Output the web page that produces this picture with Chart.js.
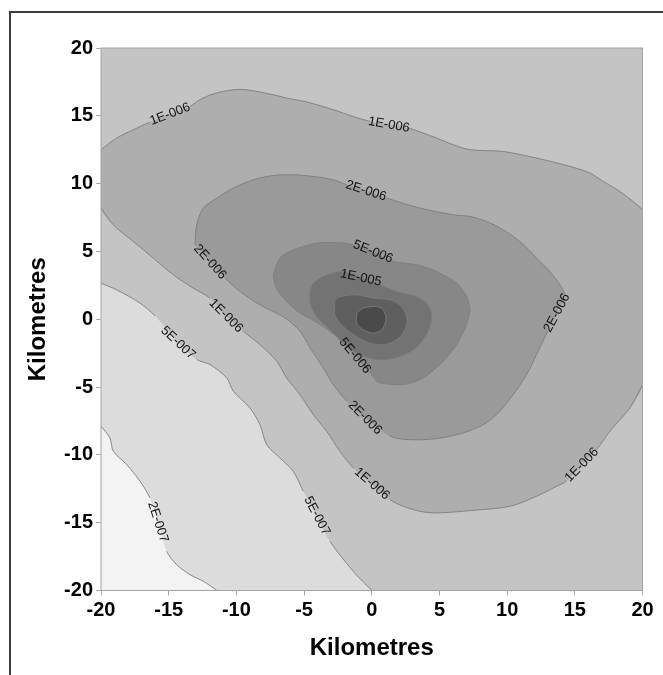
<!DOCTYPE html>
<html>
<head>
<meta charset="utf-8">
<script src="https://cdn.jsdelivr.net/npm/chart.js@4.4.0/dist/chart.umd.min.js"></script>
<style>
  html, body { margin: 0; padding: 0; background: #fff; overflow: hidden; }
  #frame { position: absolute; left: 9px; top: 11px; width: 1000px; height: 1000px;
           border-left: 2px solid #3c3c3c; border-top: 2px solid #3c3c3c; }
  #chartContainer { position: absolute; left: 0; top: 0; }
</style>
</head>
<body>
<div id="frame"></div>
<canvas id="chartContainer" width="663" height="675"></canvas>
<script>
// Contour lines, [x km, y km]
const contour2e7 = [[-20,-7.89],[-19.34,-8.75],[-19.09,-9.73],[-18.10,-10.72],[-17.12,-11.94],[-16.38,-13.18],
  [-15.79,-14.95],[-15.15,-17.11],[-14.41,-18.10],[-13.43,-18.83],[-12.44,-19.32],[-11.43,-20]];

const contour5e7 = [[-20,2.66],[-18.84,2.17],[-17.12,1.19],[-16.01,0.25],[-14.31,-1.74],[-12.93,-2.97],
  [-11.95,-3.34],[-10.72,-4.32],[-10.23,-5.30],[-9.00,-6.54],[-8.26,-7.77],[-7.76,-9.24],[-6.78,-10.23],
  [-5.80,-11.21],[-5.06,-12.68],[-4.05,-14.50],[-3.09,-16.37],[-1.37,-18.58],[0.01,-20]];

const contour1e6Upper = [[-20,12.5],[-18.84,13.36],[-17.61,13.97],[-16.38,14.54],[-14.9,15.12],[-13.43,15.69],
  [-12.69,16.19],[-11.71,16.61],[-10.23,16.92],[-9.24,16.92],[-7.27,16.55],[-6.29,16.31],[-4.81,16.02],
  [-2.84,15.45],[-1.37,14.95],[-0.13,14.59],[1.27,14.34],[2.70,14.10],[4.79,13.36],[6.02,12.87],[7.25,12.5],
  [9.71,12.37],[12.18,11.88],[14.64,11.27],[16.12,10.78],[17.10,10.16],[18.33,9.42],[19.31,8.68],[20,8.07]];

const contour1e6Lower = [[20,-4.82],[19.07,-6.54],[17.59,-8.26],[16.61,-9.61],[15.52,-10.74],[14.39,-11.94],
  [13.66,-12.31],[12.18,-13.05],[10.21,-13.79],[7.25,-14.11],[4.79,-14.28],[3.56,-14.16],[2.33,-13.79],
  [1.34,-13.30],[0.01,-12.14],[-1.37,-10.96],[-2.35,-9.73],[-3.33,-8.26],[-4.32,-7.03],[-5.30,-5.56],
  [-6.29,-4.32],[-7.02,-3.09],[-8.26,-1.87],[-9.49,-0.88],[-10.77,0.25],[-11.95,1.56],[-13.18,2.29],
  [-14.66,3.28],[-16.14,4.51],[-17.61,5.73],[-19.09,6.96],[-20,8.20]];

const contour2e6 = [[-13.06,5.49],[-12.93,6.96],[-12.44,8.20],[-11.45,8.93],[-10.23,9.67],[-8.75,10.28],
  [-7.27,10.60],[-5.80,10.65],[-4.32,10.53],[-2.84,10.28],[-1.85,9.92],[-0.43,9.47],[1.10,8.93],[3.56,8.20],
  [6.02,7.70],[7.25,7.58],[8.49,7.21],[9.71,6.60],[10.95,5.73],[12.18,4.51],[13.16,3.52],[13.90,2.54],
  [14.27,1.73],[13.68,0.47],[13.01,-0.86],[12.18,-2.60],[11.44,-4.08],[10.45,-5.56],[9.22,-7.03],[8.24,-7.77],
  [6.76,-8.38],[4.79,-8.80],[2.82,-8.88],[1.34,-8.62],[-0.50,-7.27],[-1.85,-6.04],[-2.84,-4.82],[-3.58,-3.59],
  [-4.56,-2.11],[-5.30,-0.88],[-6.41,0.10],[-8.26,1.06],[-9.73,2.04],[-10.84,3.03],[-11.95,4.23]];

const contour5e6 = [[-7.27,3.28],[-6.78,4.51],[-5.80,5.12],[-4.07,5.61],[-2.59,5.66],[-1.39,5.49],[0.09,4.97],
  [1.59,4.26],[3.32,4.01],[4.79,3.52],[6.27,2.66],[7.01,1.67],[7.25,0.69],[7.13,0.10],[7.01,-0.39],[6.27,-1.87],
  [5.28,-3.09],[3.80,-4.32],[2.33,-4.82],[0.61,-4.69],[0.24,-4.45],[-1.24,-2.70],[-2.87,-1.08],[-4.12,-0.19],
  [-5.30,0.47],[-6.34,1.36],[-7.08,2.39]];

const contour1e5 = [[-4.56,2.17],[-4.32,2.66],[-3.58,3.15],[-2.22,3.52],[-0.80,3.05],[0.61,2.54],[1.84,2.04],
  [3.32,1.67],[4.05,1.19],[4.42,0.45],[4.30,-0.54],[3.80,-1.52],[3.07,-2.26],[2.08,-2.75],[0.85,-3.00],
  [-0.13,-2.87],[-1.12,-2.50],[-2.10,-1.76],[-3.09,-0.78],[-4.07,0.20],[-4.56,1.19]];

const contour2e5 = [[-2.72,1.43],[-2.35,1.67],[-1.12,1.80],[0.11,1.56],[1.34,1.43],[2.08,1.06],[2.58,0.20],
  [2.45,-0.78],[1.84,-1.52],[0.85,-1.89],[-0.13,-1.76],[-1.12,-1.28],[-2.10,-0.54],[-2.72,0.32]];

const contour5e5 = [[-1.12,0.45],[-0.63,0.82],[0.36,0.94],[0.85,0.69],[1.05,-0.04],[0.73,-0.78],[0.11,-1.03],
  [-0.63,-0.78],[-1.12,-0.29]];

// [line index, text, x km, y km, angle deg]
const contourLabels = [
  [2, '1E-006', -14.9, 15.12, -21],
  [2, '1E-006', 1.27, 14.34, 10],
  [4, '2E-006', -0.43, 9.47, 18],
  [5, '5E-006', 0.09, 4.97, 22],
  [6, '1E-005', -0.80, 3.05, 12],
  [4, '2E-006', -11.95, 4.23, 48],
  [3, '1E-006', -10.77, 0.25, 45],
  [1, '5E-007', -14.31, -1.74, 43],
  [5, '5E-006', -1.24, -2.70, 50],
  [4, '2E-006', -0.50, -7.27, 45],
  [3, '1E-006', 0.01, -12.14, 41],
  [1, '5E-007', -4.05, -14.50, 62],
  [0, '2E-007', -15.79, -14.95, 72],
  [4, '2E-006', 13.68, 0.47, -62],
  [3, '1E-006', 15.52, -10.74, -46]
];

const axisTicks = [-20, -15, -10, -5, 0, 5, 10, 15, 20];

const fontFamily = 'Arial, "Liberation Sans", sans-serif';
const lineColor = '#7d7d7d';
const tension = 0.3;

function pts(list) { return list.map(p => ({x: p[0], y: p[1]})); }
function closed(list) { return pts(list.concat([list[0]])); }

// contour line is left out where its label sits
function labelGap(lineIndex) {
  return function (ctx) {
    const chart = ctx.chart;
    const mx = (ctx.p0.x + ctx.p1.x) / 2;
    const my = (ctx.p0.y + ctx.p1.y) / 2;
    for (const l of contourLabels) {
      if (l[0] !== lineIndex) continue;
      const lx = chart.scales.x.getPixelForValue(l[2]);
      const ly = chart.scales.y.getPixelForValue(l[3]);
      if (Math.hypot(mx - lx, my - ly) < 18) return 'rgba(0,0,0,0)';
    }
    return lineColor;
  };
}

const fills = [
  {data: pts(contour5e7), fill: 'start', color: '#dcdcdc'},
  {data: pts(contour2e7), fill: 'start', color: '#f3f3f3'},
  {data: closed(contour1e6Upper.concat(contour1e6Lower)), fill: 'shape', color: '#aeaeae'},
  {data: closed(contour2e6), fill: 'shape', color: '#9a9a9a'},
  {data: closed(contour5e6), fill: 'shape', color: '#878787'},
  {data: closed(contour1e5), fill: 'shape', color: '#737373'},
  {data: closed(contour2e5), fill: 'shape', color: '#5f5f5f'},
  {data: closed(contour5e5), fill: 'shape', color: '#4a4a4a'}
];

const lines = [
  pts(contour2e7), pts(contour5e7), pts(contour1e6Upper), pts(contour1e6Lower),
  closed(contour2e6), closed(contour5e6), closed(contour1e5), closed(contour2e5), closed(contour5e5)
];

const datasets = [];
fills.forEach((f, i) => {
  datasets.push({
    data: f.data, showLine: true, fill: f.fill, backgroundColor: f.color,
    borderWidth: 0, borderColor: 'rgba(0,0,0,0)', pointRadius: 0, tension: tension, order: 100 - i
  });
});
lines.forEach((d, i) => {
  datasets.push({
    data: d, showLine: true, fill: false, borderColor: lineColor, borderWidth: 0.9,
    pointRadius: 0, tension: tension, order: 0, segment: {borderColor: labelGap(i)}
  });
});

const contourPlugin = {
  id: 'contourPlugin',
  beforeDatasetsDraw(chart) {
    const a = chart.chartArea, ctx = chart.ctx;
    ctx.save();
    ctx.fillStyle = '#c4c4c4';
    ctx.fillRect(a.left, a.top, a.right - a.left, a.bottom - a.top);
    ctx.restore();
  },
  afterDatasetsDraw(chart) {
    const a = chart.chartArea, ctx = chart.ctx;
    ctx.save();
    ctx.strokeStyle = '#a4a4a4';
    ctx.lineWidth = 1;
    ctx.strokeRect(a.left, a.top, a.right - a.left, a.bottom - a.top);
    ctx.font = '13px ' + fontFamily;
    ctx.fillStyle = '#111';
    ctx.textAlign = 'center';
    ctx.textBaseline = 'middle';
    for (const l of contourLabels) {
      const x = chart.scales.x.getPixelForValue(l[2]);
      const y = chart.scales.y.getPixelForValue(l[3]);
      ctx.save();
      ctx.translate(x, y);
      ctx.rotate(l[4] * Math.PI / 180);
      ctx.fillText(l[1], 0, 0);
      ctx.restore();
    }
    ctx.restore();
  }
};

function axis(extra) {
  return Object.assign({
    type: 'linear', min: axisTicks[0], max: axisTicks[axisTicks.length - 1],
    afterBuildTicks: s => { s.ticks = axisTicks.map(v => ({value: v})); },
    ticks: {font: {family: fontFamily, size: 20, weight: 'bold'}, color: '#000', padding: 3, maxRotation: 0, autoSkip: false},
    grid: {drawOnChartArea: false, drawTicks: true, tickLength: 5, color: '#a8a8a8'},
    border: {color: '#a8a8a8'}
  }, extra);
}

const ctx = document.getElementById('chartContainer').getContext('2d');
new Chart(ctx, {
  type: 'scatter',
  data: {datasets: datasets},
  options: {
    responsive: false,
    animation: false,
    events: [],
    layout: {padding: {left: 0, top: 48, right: 20.5, bottom: 0}},
    plugins: {legend: {display: false}, tooltip: {enabled: false}},
    scales: {
      x: axis({
        title: {display: true, text: 'Kilometres', color: '#000',
                font: {family: fontFamily, size: 24, weight: 'bold'}, padding: {top: 0, bottom: 12}},
        afterFit: s => { s.height = 84.5; }
      }),
      y: axis({
        title: {display: true, text: 'Kilometres', color: '#000',
                font: {family: fontFamily, size: 24, weight: 'bold'}, padding: {top: 24, bottom: 0}},
        afterFit: s => { s.width = 101; }
      })
    }
  },
  plugins: [contourPlugin]
});
</script>
</body>
</html>
